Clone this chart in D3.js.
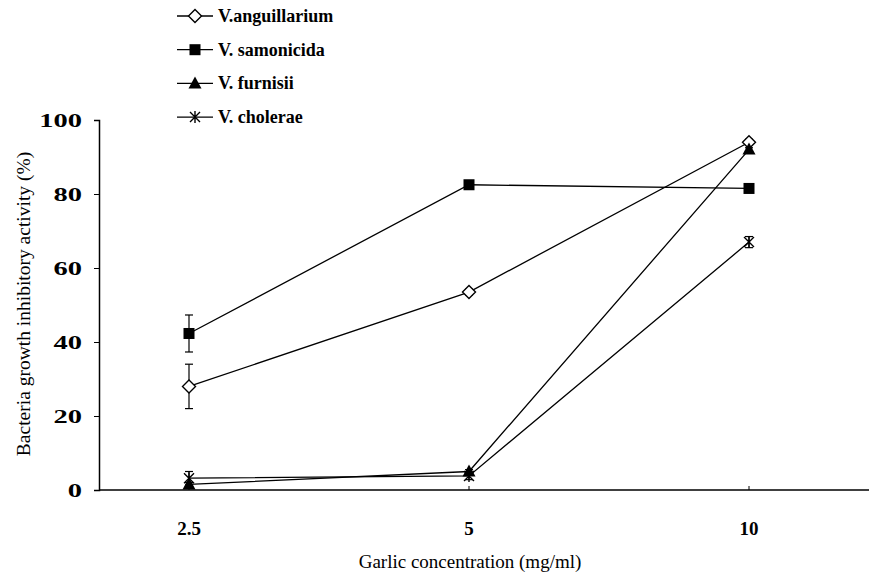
<!DOCTYPE html>
<html>
<head>
<meta charset="utf-8">
<script src="https://cdn.jsdelivr.net/npm/d3@7"></script>
<style>
  body { margin: 0; background: #fff; }
  text { font-family: "Liberation Serif", "Times New Roman", serif; }
</style>
</head>
<body>
<div id="chart"></div>
<script>
// data
var concentrations = ["2.5", "5", "10"];
var yTicks = [0, 20, 40, 60, 80, 100];
var seriesNames = ["V.anguillarium", "V. samonicida", "V. furnisii", "V. cholerae"];
var anguillarium = [28, 53.5, 94];
var anguillariumErr = [6, 0.8, 0.8];
var samonicida = [42.3, 82.5, 81.5];
var samonicidaErr = [5, 1, 0.5];
var furnisii = [1.5, 5, 92];
var furnisiiErr = [0.5, 0.5, 0.5];
var cholerae = [3.2, 3.8, 67];
var choleraeErr = [1.8, 1, 1.5];

var w = 869, h = 577;
var svg = d3.select("#chart").append("svg")
  .attr("width", w).attr("height", h);

var x = d3.scaleBand().domain(concentrations).range([49, 889]);
var y = d3.scaleLinear().domain([0, 100]).range([490, 120]);
var cx = function(c) { return x(c) + x.bandwidth() / 2; };

// y axis (labels drawn by hand below, they are stretched wide in the original)
var yAxis = svg.append("g")
  .attr("transform", "translate(99,0)")
  .call(d3.axisLeft(y).tickValues(yTicks).tickSize(5).tickFormat(""));
yAxis.select(".domain").attr("stroke-width", 1.5);

svg.selectAll(".ylbl").data(yTicks).enter().append("text")
  .attr("transform", function(d) { return "translate(82," + (y(d) + 6.5) + ") scale(1.5,1)"; })
  .attr("text-anchor", "end").attr("font-size", 19).attr("font-weight", "bold")
  .text(function(d) { return d; });

// x axis
var xAxis = svg.append("g")
  .attr("transform", "translate(0,490)");
xAxis.append("line").attr("x1", 99).attr("x2", w).attr("stroke", "#000").attr("stroke-width", 1.5);
xAxis.selectAll(".tk").data(concentrations).enter().append("line")
  .attr("x1", cx).attr("x2", cx).attr("y1", 0).attr("y2", -4).attr("stroke", "#000");
xAxis.selectAll(".lbl").data(concentrations).enter().append("text")
  .attr("x", cx).attr("y", 45).attr("text-anchor", "middle")
  .attr("font-size", 19).attr("font-weight", "bold").text(function(d) { return d; });

svg.append("text").attr("x", 470).attr("y", 568).attr("text-anchor", "middle")
  .attr("font-size", 19).text("Garlic concentration (mg/ml)");
svg.append("text").attr("transform", "translate(30,304) rotate(-90)")
  .attr("text-anchor", "middle").attr("font-size", 19.5)
  .text("Bacteria growth inhibitory activity (%)");

var series = [
  { name: seriesNames[0], vals: anguillarium, err: anguillariumErr, shape: "diamond" },
  { name: seriesNames[1], vals: samonicida, err: samonicidaErr, shape: "square" },
  { name: seriesNames[2], vals: furnisii, err: furnisiiErr, shape: "triangle" },
  { name: seriesNames[3], vals: cholerae, err: choleraeErr, shape: "star" }
];

function marker(g, shape, px, py) {
  if (shape == "diamond") {
    g.append("path").attr("d", "M" + px + "," + (py - 6.5) + "L" + (px + 6.5) + "," + py +
      "L" + px + "," + (py + 6.5) + "L" + (px - 6.5) + "," + py + "Z")
      .attr("fill", "#fff").attr("stroke", "#000").attr("stroke-width", 1.4);
  } else if (shape == "square") {
    g.append("rect").attr("x", px - 5.5).attr("y", py - 5.5).attr("width", 11).attr("height", 11)
      .attr("fill", "#000");
  } else if (shape == "triangle") {
    g.append("path").attr("d", "M" + px + "," + (py - 7) + "L" + (px + 6.5) + "," + (py + 5) +
      "L" + (px - 6.5) + "," + (py + 5) + "Z").attr("fill", "#000");
  } else {
    g.append("path").attr("d", "M" + (px - 5) + "," + (py - 5) + "L" + (px + 5) + "," + (py + 5) +
      "M" + (px + 5) + "," + (py - 5) + "L" + (px - 5) + "," + (py + 5) +
      "M" + px + "," + (py - 6) + "L" + px + "," + (py + 6))
      .attr("stroke", "#000").attr("stroke-width", 1.4).attr("fill", "none");
  }
}

var line = d3.line().x(function(d, i) { return cx(concentrations[i]); }).y(function(d) { return y(d); });

series.forEach(function(s) {
  var g = svg.append("g");
  g.append("path").attr("d", line(s.vals)).attr("fill", "none")
    .attr("stroke", "#000").attr("stroke-width", 1.3);
  s.vals.forEach(function(v, i) {
    var px = cx(concentrations[i]);
    var top = y(v + s.err[i]), bot = y(v - s.err[i]);
    g.append("line").attr("x1", px).attr("x2", px).attr("y1", top).attr("y2", bot)
      .attr("stroke", "#000").attr("stroke-width", 1.2);
    [top, bot].forEach(function(yy) {
      g.append("line").attr("x1", px - 4).attr("x2", px + 4).attr("y1", yy).attr("y2", yy)
        .attr("stroke", "#000").attr("stroke-width", 1.2);
    });
    marker(g, s.shape, px, y(v));
  });
});

// legend
var legend = svg.append("g");
series.forEach(function(s, i) {
  var ly = 16 + i * 33.7;
  legend.append("line").attr("x1", 177).attr("x2", 213).attr("y1", ly).attr("y2", ly)
    .attr("stroke", "#000").attr("stroke-width", 1.3);
  marker(legend, s.shape, 195, ly);
  legend.append("text").attr("x", 218).attr("y", ly + 6).attr("font-size", 18)
    .attr("font-weight", "bold").text(s.name);
});
</script>
</body>
</html>
